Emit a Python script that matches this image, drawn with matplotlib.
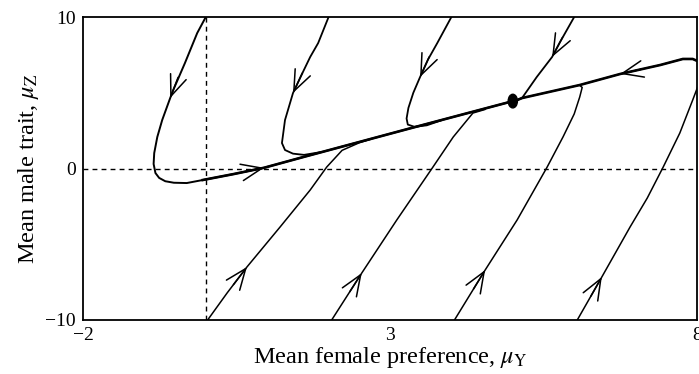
import numpy as np
import matplotlib
matplotlib.use("Agg")
import matplotlib.pyplot as plt
from matplotlib.patches import Ellipse

plt.rcParams['font.family'] = ['Liberation Serif', 'DejaVu Serif']
plt.rcParams['mathtext.fontset'] = 'stix'

# ---- data ----
x_ticks = [-2, 3, 8]
y_ticks = [-10, 0, 10]
x_label = "Mean female preference, $\\mu_\\mathrm{Y}$"
y_label = "Mean male trait, $\\mu_\\mathrm{Z}$"

equilibrium = (5.0, 4.45)

# main attracting line (left loop + line to the equilibrium)
traj_A_x = [0.0, -0.14, -0.34, -0.53, -0.58, -0.71, -0.79, -0.84, -0.85, -0.82, -0.76, -0.66, -0.52, -0.31, -0.05, 0.45, 0.95, 1.6, 2.5, 3.3, 4.1, 4.92]
traj_A_y = [10.0, 8.94, 6.96, 5.18, 4.65, 3.20, 2.08, 1.02, 0.30, -0.30, -0.62, -0.84, -0.94, -0.96, -0.76, -0.37, 0.05, 0.77, 1.75, 2.62, 3.48, 4.36]
traj_B_x = [2.0, 1.83, 1.70, 1.55, 1.42, 1.29, 1.24, 1.29, 1.42, 1.6, 1.9]
traj_B_y = [10.0, 8.28, 7.36, 6.10, 4.98, 3.20, 1.68, 1.22, 0.98, 0.90, 1.10]
traj_C_x = [4.0, 3.77, 3.62, 3.49, 3.38, 3.30, 3.27, 3.29, 3.40, 3.6, 3.85]
traj_C_y = [10.0, 8.28, 7.20, 6.04, 5.00, 4.00, 3.30, 2.90, 2.75, 2.85, 3.20]
traj_D_x = [6.0, 5.77, 5.64, 5.39, 5.15, 5.06]
traj_D_y = [10.0, 8.35, 7.36, 6.04, 4.65, 4.50]
# from the bottom edge (E4 leaves the frame and comes back along the upper branch)
traj_E1_x = [0.03, 0.35, 0.67, 1.21, 1.70, 1.97, 2.22, 2.5, 2.7]
traj_E1_y = [-10.0, -8.2, -6.50, -3.86, -1.42, 0.10, 1.20, 1.70, 1.95]
traj_E2_x = [2.05, 2.54, 3.11, 3.70, 4.03, 4.35, 4.55]
traj_E2_y = [-10.0, -6.90, -3.40, 0.10, 2.08, 3.66, 3.90]
traj_E3_x = [4.05, 4.55, 5.07, 5.56, 5.82, 6.0, 6.09, 6.13, 6.08]
traj_E3_y = [-10.0, -6.70, -3.40, 0.10, 2.10, 3.60, 4.72, 5.35, 5.52]
traj_E4_x = [6.05, 6.45, 6.91, 7.19, 7.45, 7.72, 7.93, 8.05, 8.12, 8.06, 7.93, 7.77, 7.40, 6.75, 6.09, 5.15, 5.06]
traj_E4_y = [-10.0, -7.16, -3.86, -1.95, 0.10, 2.34, 4.52, 5.80, 6.55, 7.00, 7.23, 7.23, 6.83, 6.24, 5.51, 4.65, 4.50]

# (trajectory, index of the point where an arrowhead sits, linewidth)
trajectories = [
    (traj_A_x, traj_A_y, [4, 16], 1.4),
    (traj_B_x, traj_B_y, [4], 1.3),
    (traj_C_x, traj_C_y, [3], 1.3),
    (traj_D_x, traj_D_y, [2], 1.3),
    (traj_E1_x, traj_E1_y, [2], 1.1),
    (traj_E2_x, traj_E2_y, [1], 1.1),
    (traj_E3_x, traj_E3_y, [1], 1.1),
    (traj_E4_x, traj_E4_y, [1, 13], 1.1),
]

fig = plt.figure(figsize=(6.99, 3.74), dpi=100)
ax = fig.add_axes([83/699, 1-320/374, 614/699, 303/374])
ax.set_xlim(-2, 8)
ax.set_ylim(-10, 10)

ax.axhline(0, color='black', lw=1.0, dashes=(3.5, 3.0))
ax.axvline(0, color='black', lw=1.0, dashes=(3.5, 3.0))

for xs, ys, arrows, lw in trajectories:
    ax.plot(xs, ys, color='black', lw=lw, solid_capstyle='round', solid_joinstyle='round')

# main line drawn a bit heavier where trajectories converge
ax.plot(traj_A_x[14:], traj_A_y[14:], color='black', lw=1.9)
ax.plot(traj_E4_x[9:], traj_E4_y[9:], color='black', lw=1.9)

fig.canvas.draw()
for xs, ys, arrows, lw in trajectories:
    for i in arrows:
        tip = ax.transData.transform((xs[i], ys[i]))
        prev = ax.transData.transform((xs[i-1], ys[i-1]))
        d = tip - prev
        d = d / np.hypot(*d)
        ax.annotate('', xy=(xs[i], ys[i]), xycoords='data',
                    xytext=(-d[0]*16, -d[1]*16), textcoords='offset points',
                    arrowprops=dict(arrowstyle='->,head_length=1.5,head_width=0.6',
                                    lw=1.1, color='black', shrinkA=0, shrinkB=0,
                                    mutation_scale=10))

ax.add_patch(Ellipse(equilibrium, width=0.15, height=0.9, color='black', zorder=5))

ax.set_xticks(x_ticks)
ax.set_yticks(y_ticks)
ax.set_xticklabels([str(v).replace('-', '\u2212') for v in x_ticks])
ax.set_yticklabels([str(v).replace('-', '\u2212') for v in y_ticks])
ax.tick_params(length=0, labelsize=14, pad=5)
for s in ax.spines.values():
    s.set_linewidth(1.3)

ax.set_xlabel(x_label, fontsize=17.5, labelpad=1)
ax.set_ylabel(y_label, fontsize=17.5, labelpad=3)

fig.savefig('out.png', dpi=100)
